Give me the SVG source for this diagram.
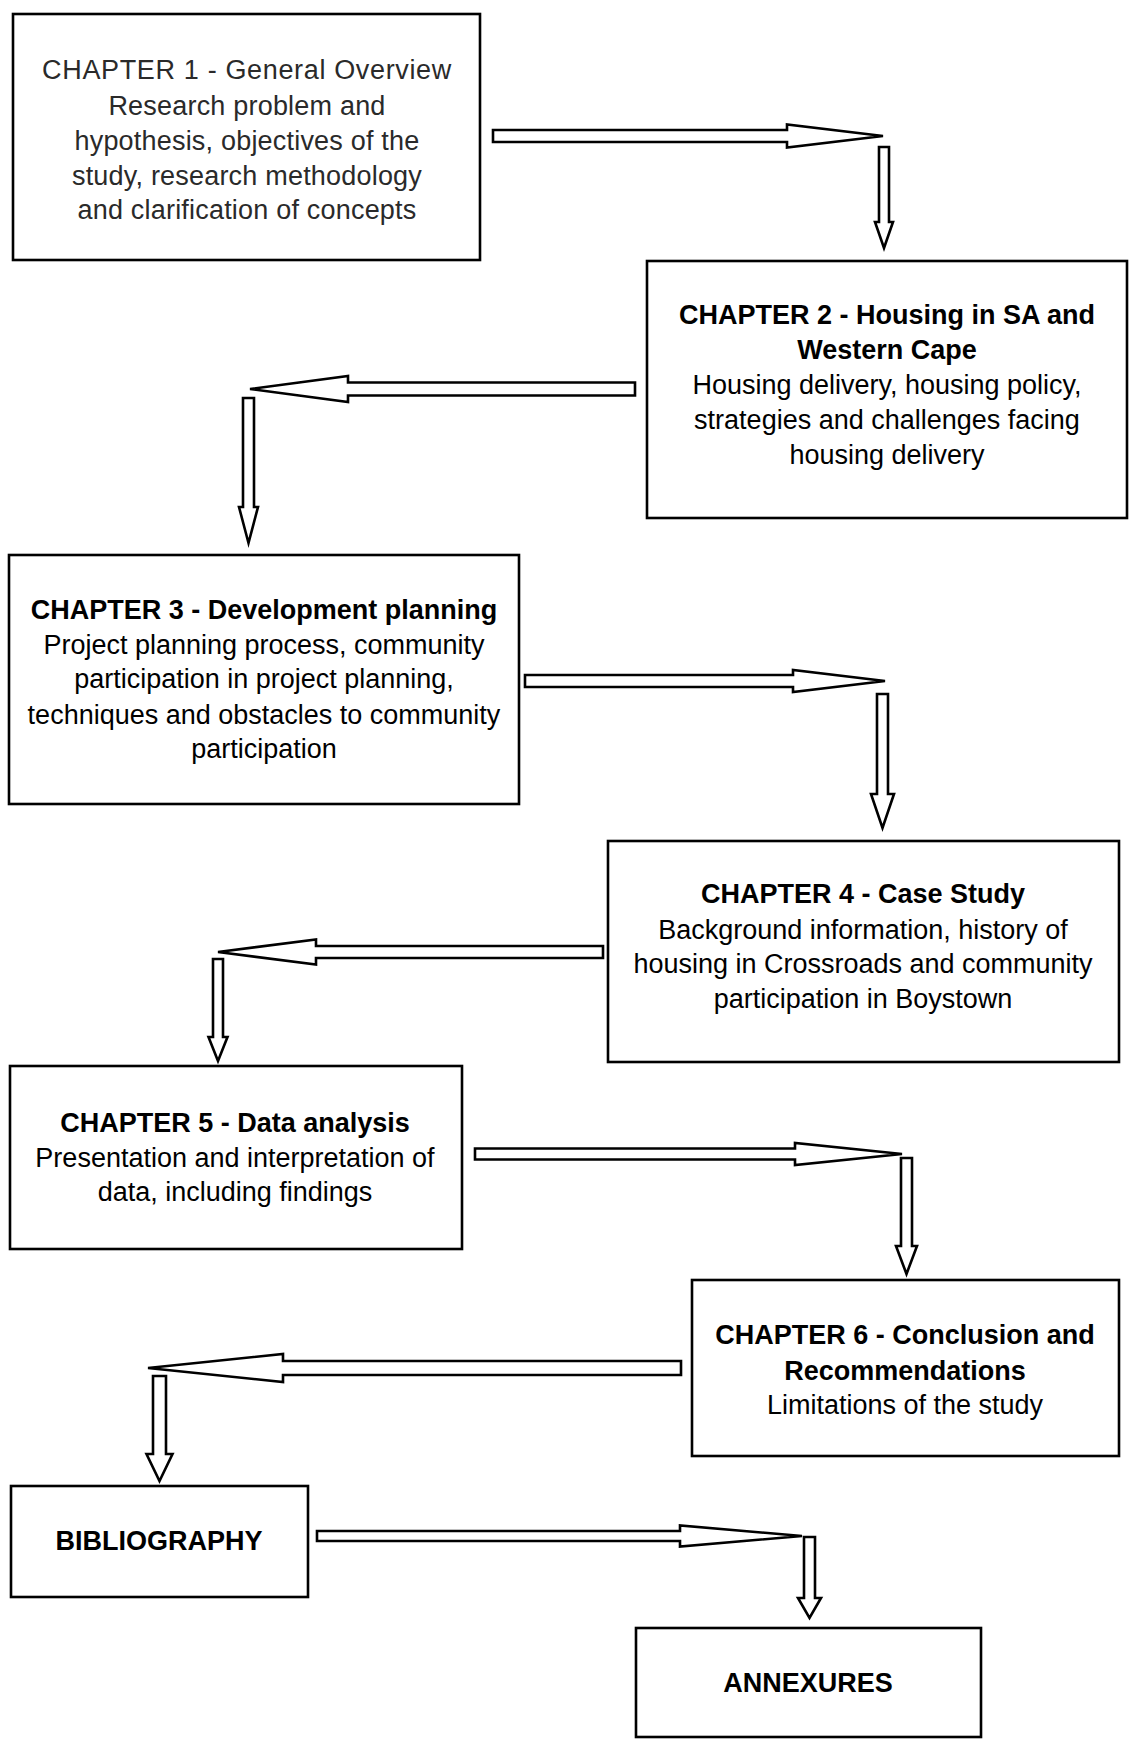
<svg xmlns="http://www.w3.org/2000/svg" width="1129" height="1745" viewBox="0 0 1129 1745">
<style>
.box{fill:#fff;stroke:#000;stroke-width:2.6}
.arr{fill:#fff;stroke:#000;stroke-width:2.6;stroke-linejoin:miter}
text{font-family:"Liberation Sans",Arial,sans-serif;font-size:27px;text-anchor:middle;fill:#000}
.t{font-weight:bold}
.c1{fill:#2a2a2a;letter-spacing:0.2px}
.c1t{fill:#2a2a2a;letter-spacing:0.65px}
</style>
<rect width="1129" height="1745" fill="#fff"/>
<g id="connectors">
<polygon class="arr" points="493,130 787,130 787,124.5 883,136 787,147.5 787,142 493,142"/>
<polygon class="arr" points="879,147 889,147 889,222 893,222 884,248 875,222 879,222"/>
<polygon class="arr" points="635,382.5 348,382.5 348,376 250,389 348,402 348,395.5 635,395.5"/>
<polygon class="arr" points="243,398 254,398 254,507 258,507 248.5,543 239,507 243,507"/>
<polygon class="arr" points="525,675 793,675 793,670 885,681 793,692 793,687 525,687"/>
<polygon class="arr" points="877,694 888,694 888,794 894,794 882.5,828 871,794 877,794"/>
<polygon class="arr" points="603,946 316,946 316,939.5 218,952 316,964.5 316,958 603,958"/>
<polygon class="arr" points="213,959 223,959 223,1037 227.5,1037 218,1061 208.5,1037 213,1037"/>
<polygon class="arr" points="475,1148.5 795,1148.5 795,1143 902,1154 795,1165 795,1159.5 475,1159.5"/>
<polygon class="arr" points="901,1158 912,1158 912,1246 917,1246 906.5,1274 896,1246 901,1246"/>
<polygon class="arr" points="681,1361 283,1361 283,1354 148,1368 283,1382 283,1375 681,1375"/>
<polygon class="arr" points="153,1376 166,1376 166,1454 172.5,1454 159.5,1481 146.5,1454 153,1454"/>
<polygon class="arr" points="317,1531 680,1531 680,1525.5 802,1536 680,1546.5 680,1541 317,1541"/>
<polygon class="arr" points="804,1537 815,1537 815,1598 821,1598 809.5,1618 798,1598 804,1598"/>
</g>
<g id="chapter1">
<rect class="box" x="13" y="14" width="467" height="246"/>
<text class="c1t" x="247" y="79">CHAPTER 1 - General Overview</text>
<text class="c1" x="247" y="115">Research problem and</text>
<text class="c1" x="247" y="150">hypothesis, objectives of the</text>
<text class="c1" x="247" y="185">study, research methodology</text>
<text class="c1" x="247" y="219">and clarification of concepts</text>
</g>
<g id="chapter2">
<rect class="box" x="647" y="261" width="480" height="257"/>
<text class="t" x="887" y="324">CHAPTER 2 - Housing in SA and</text>
<text class="t" x="887" y="359">Western Cape</text>
<text x="887" y="394">Housing delivery, housing policy,</text>
<text x="887" y="429">strategies and challenges facing</text>
<text x="887" y="464">housing delivery</text>
</g>
<g id="chapter3">
<rect class="box" x="9" y="555" width="510" height="249"/>
<text class="t" x="264" y="619">CHAPTER 3 - Development planning</text>
<text x="264" y="654">Project planning process, community</text>
<text x="264" y="688">participation in project planning,</text>
<text x="264" y="724">techniques and obstacles to community</text>
<text x="264" y="758">participation</text>
</g>
<g id="chapter4">
<rect class="box" x="608" y="841" width="511" height="221"/>
<text class="t" x="863" y="903">CHAPTER 4 - Case Study</text>
<text x="863" y="939">Background information, history of</text>
<text x="863" y="973">housing in Crossroads and community</text>
<text x="863" y="1008">participation in Boystown</text>
</g>
<g id="chapter5">
<rect class="box" x="10" y="1066" width="452" height="183"/>
<text class="t" x="235" y="1132">CHAPTER 5 - Data analysis</text>
<text x="235" y="1167">Presentation and interpretation of</text>
<text x="235" y="1201">data, including findings</text>
</g>
<g id="chapter6">
<rect class="box" x="692" y="1280" width="427" height="176"/>
<text class="t" x="905" y="1344">CHAPTER 6 - Conclusion and</text>
<text class="t" x="905" y="1380">Recommendations</text>
<text x="905" y="1414">Limitations of the study</text>
</g>
<g id="bibliography">
<rect class="box" x="11" y="1486" width="297" height="111"/>
<text class="t" x="159" y="1550">BIBLIOGRAPHY</text>
</g>
<g id="annexures">
<rect class="box" x="636" y="1628" width="345" height="109"/>
<text class="t" x="808" y="1692">ANNEXURES</text>
</g>
</svg>
